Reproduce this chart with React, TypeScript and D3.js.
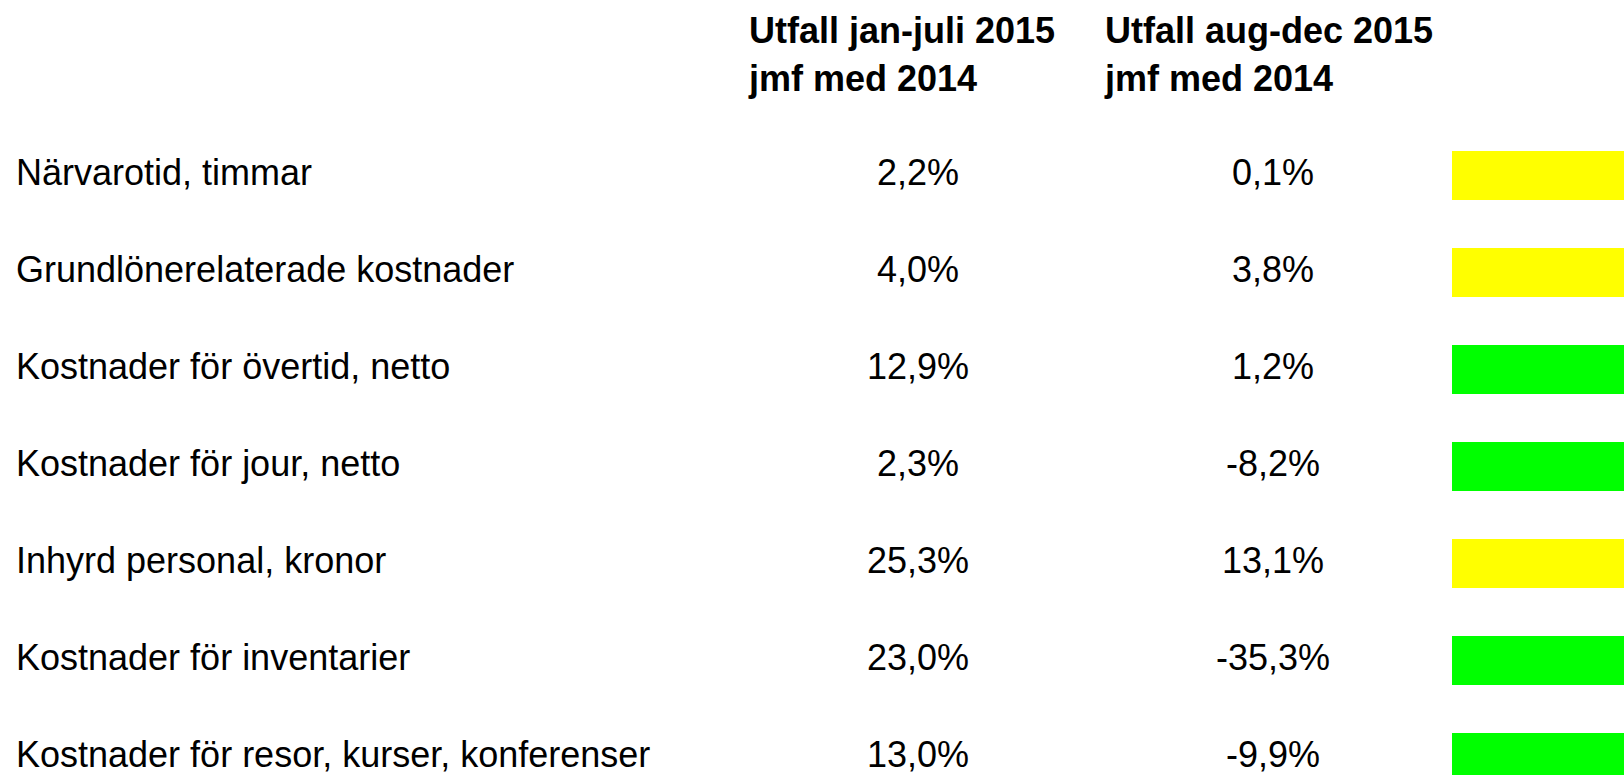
import React from "react";
import * as d3 from "d3";

const categories = [
  "Närvarotid, timmar",
  "Grundlönerelaterade kostnader",
  "Kostnader för övertid, netto",
  "Kostnader för jour, netto",
  "Inhyrd personal, kronor",
  "Kostnader för inventarier",
  "Kostnader för resor, kurser, konferenser",
];
const janJuli = ["2,2%", "4,0%", "12,9%", "2,3%", "25,3%", "23,0%", "13,0%"];
const augDec = ["0,1%", "3,8%", "1,2%", "-8,2%", "13,1%", "-35,3%", "-9,9%"];
const status = ["yellow", "yellow", "green", "green", "yellow", "green", "green"];
const header1 = ["Utfall jan-juli 2015", "jmf med 2014"];
const header2 = ["Utfall aug-dec 2015", "jmf med 2014"];

const W = 1624;
const H = 775;
const FONT = "'Liberation Sans', Arial, Helvetica, sans-serif";
const colorMap: Record<string, string> = { yellow: "#FFFF00", green: "#00FF00" };

export default function App() {
  const y = d3.scaleBand<string>().domain(categories).range([127, 127 + 97 * categories.length]).padding(0);
  const colX = d3.scalePoint<string>().domain(["c1", "c2"]).range([918, 1273]);
  return (
    <svg width={W} height={H} style={{ position: "absolute", left: 0, top: 0, background: "#fff" }}>
      <rect x={0} y={0} width={W} height={H} fill="#fff" />
      {header1.map((t, i) => (
        <text key={"h1" + i} x={749} y={43 + i * 48} fontFamily={FONT} fontWeight="bold" fontSize={36} fill="#000">{t}</text>
      ))}
      {header2.map((t, i) => (
        <text key={"h2" + i} x={1105} y={43 + i * 48} fontFamily={FONT} fontWeight="bold" fontSize={36} fill="#000">{t}</text>
      ))}
      {categories.map((c, i) => {
        const top = y(c)!;
        return (
          <g key={c}>
            <text x={16} y={top + 58} fontFamily={FONT} fontSize={36} fill="#000">{c}</text>
            <text x={colX("c1")} y={top + 58} textAnchor="middle" fontFamily={FONT} fontSize={36} fill="#000">{janJuli[i]}</text>
            <text x={colX("c2")} y={top + 58} textAnchor="middle" fontFamily={FONT} fontSize={36} fill="#000">{augDec[i]}</text>
            <rect x={1452} y={top + 24} width={W - 1452} height={49} fill={colorMap[status[i]]} />
          </g>
        );
      })}
    </svg>
  );
}
